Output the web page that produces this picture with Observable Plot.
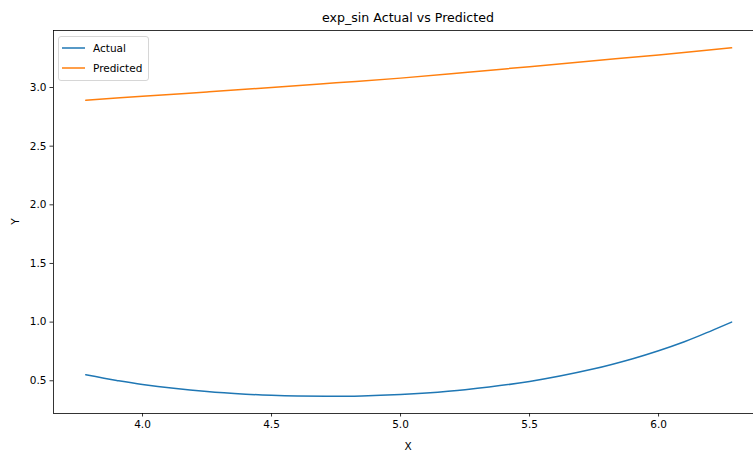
<!DOCTYPE html>
<html><head><meta charset="utf-8">
<script src="https://cdn.jsdelivr.net/npm/d3@7"></script>
<script src="https://cdn.jsdelivr.net/npm/@observablehq/plot@0.6"></script>
<style>
body{margin:0;background:#fff}
#chart svg{font-family:"DejaVu Sans",sans-serif;display:block;overflow:visible}
</style>
</head><body><div id="chart"></div>
<script>
const title = "exp_sin Actual vs Predicted";
const xLabel = "X";
const yLabel = "Y";
const seriesNames = ["Actual", "Predicted"];
const seriesColors = ["#1f77b4", "#ff7f0e"];

const xActual = [3.78, 3.9, 4.0, 4.25, 4.4, 4.5, 4.6, 4.712, 4.85, 5.0, 5.1, 5.25, 5.5, 5.75, 5.9, 6.0, 6.1, 6.15, 6.283];
const yActual = [0.551, 0.503, 0.469, 0.409, 0.386, 0.376, 0.370, 0.368, 0.371, 0.383, 0.396, 0.424, 0.494, 0.602, 0.688, 0.756, 0.833, 0.876, 1.0];

const xPred = [3.78, 4.0, 4.25, 4.5, 4.75, 5.0, 5.25, 5.5, 5.75, 6.0, 6.283];
const yPred = [2.892, 2.925, 2.962, 3.0, 3.04, 3.08, 3.128, 3.178, 3.228, 3.278, 3.338];

const xTicks = [4.0, 4.5, 5.0, 5.5, 6.0];
const yTicks = [0.5, 1.0, 1.5, 2.0, 2.5, 3.0];

const actual = xActual.map((x, i) => ({x, y: yActual[i], s: seriesNames[0]}));
const pred = xPred.map((x, i) => ({x, y: yPred[i], s: seriesNames[1]}));

const W = 753, H = 452, mL = 53, mR = 0, mT = 30, mB = 39;
const xDomain = [3.655, 6.368];
const yDomain = [0.221, 3.486];
const fs = 10.5;

const plot = Plot.plot({
  width: W, height: H,
  marginLeft: mL, marginRight: mR, marginTop: mT, marginBottom: mB,
  style: {fontFamily: "DejaVu Sans, sans-serif", fontSize: fs + "px", color: "#000", background: "#fff"},
  x: {domain: xDomain, ticks: xTicks, tickFormat: d3.format(".1f"), label: null},
  y: {domain: yDomain, ticks: yTicks, tickFormat: d3.format(".1f"), label: null},
  marks: [
    Plot.axisX({ticks: xTicks, tickFormat: d3.format(".1f"), tickSize: 3.5, tickPadding: 4, label: null, stroke: "#000", strokeWidth: 0.8, fontSize: fs}),
    Plot.axisY({ticks: yTicks, tickFormat: d3.format(".1f"), tickSize: 3.5, tickPadding: 3.5, label: null, stroke: "#000", strokeWidth: 0.8, fontSize: fs}),
    Plot.ruleX([xDomain[0]], {stroke: "#000", strokeWidth: 0.8}),
    Plot.ruleY([yDomain[0], yDomain[1]], {stroke: "#000", strokeWidth: 0.8}),
    Plot.line(actual, {x: "x", y: "y", stroke: seriesColors[0], strokeWidth: 1.5, curve: "catmull-rom"}),
    Plot.line(pred, {x: "x", y: "y", stroke: seriesColors[1], strokeWidth: 1.5, curve: "catmull-rom"})
  ]
});
document.getElementById("chart").appendChild(plot);

const svg = d3.select(plot);
const plotCx = 408;
svg.append("text").attr("x", plotCx).attr("y", 21.5).attr("text-anchor", "middle")
  .attr("font-size", 12.6).attr("fill", "#000").text(title);
svg.append("text").attr("x", plotCx).attr("y", 450).attr("text-anchor", "middle")
  .attr("font-size", fs).attr("fill", "#000").text(xLabel);
svg.append("text").attr("transform", "translate(19,221.5) rotate(-90)").attr("text-anchor", "middle")
  .attr("font-size", fs).attr("fill", "#000").text(yLabel);

const lg = svg.append("g");
lg.append("rect").attr("x", 58.5).attr("y", 36.5).attr("width", 90).attr("height", 44).attr("rx", 2.5)
  .attr("fill", "#fff").attr("fill-opacity", 0.8).attr("stroke", "#ccc").attr("stroke-width", 0.8);
seriesNames.forEach((name, i) => {
  const yy = 48 + i * 20;
  lg.append("line").attr("x1", 62).attr("x2", 85).attr("y1", yy).attr("y2", yy)
    .attr("stroke", seriesColors[i]).attr("stroke-width", 1.5);
  lg.append("text").attr("x", 93).attr("y", yy + 3.8).attr("text-anchor", "start")
    .attr("font-size", fs).attr("fill", "#000").text(name);
});
</script>
</body></html>
